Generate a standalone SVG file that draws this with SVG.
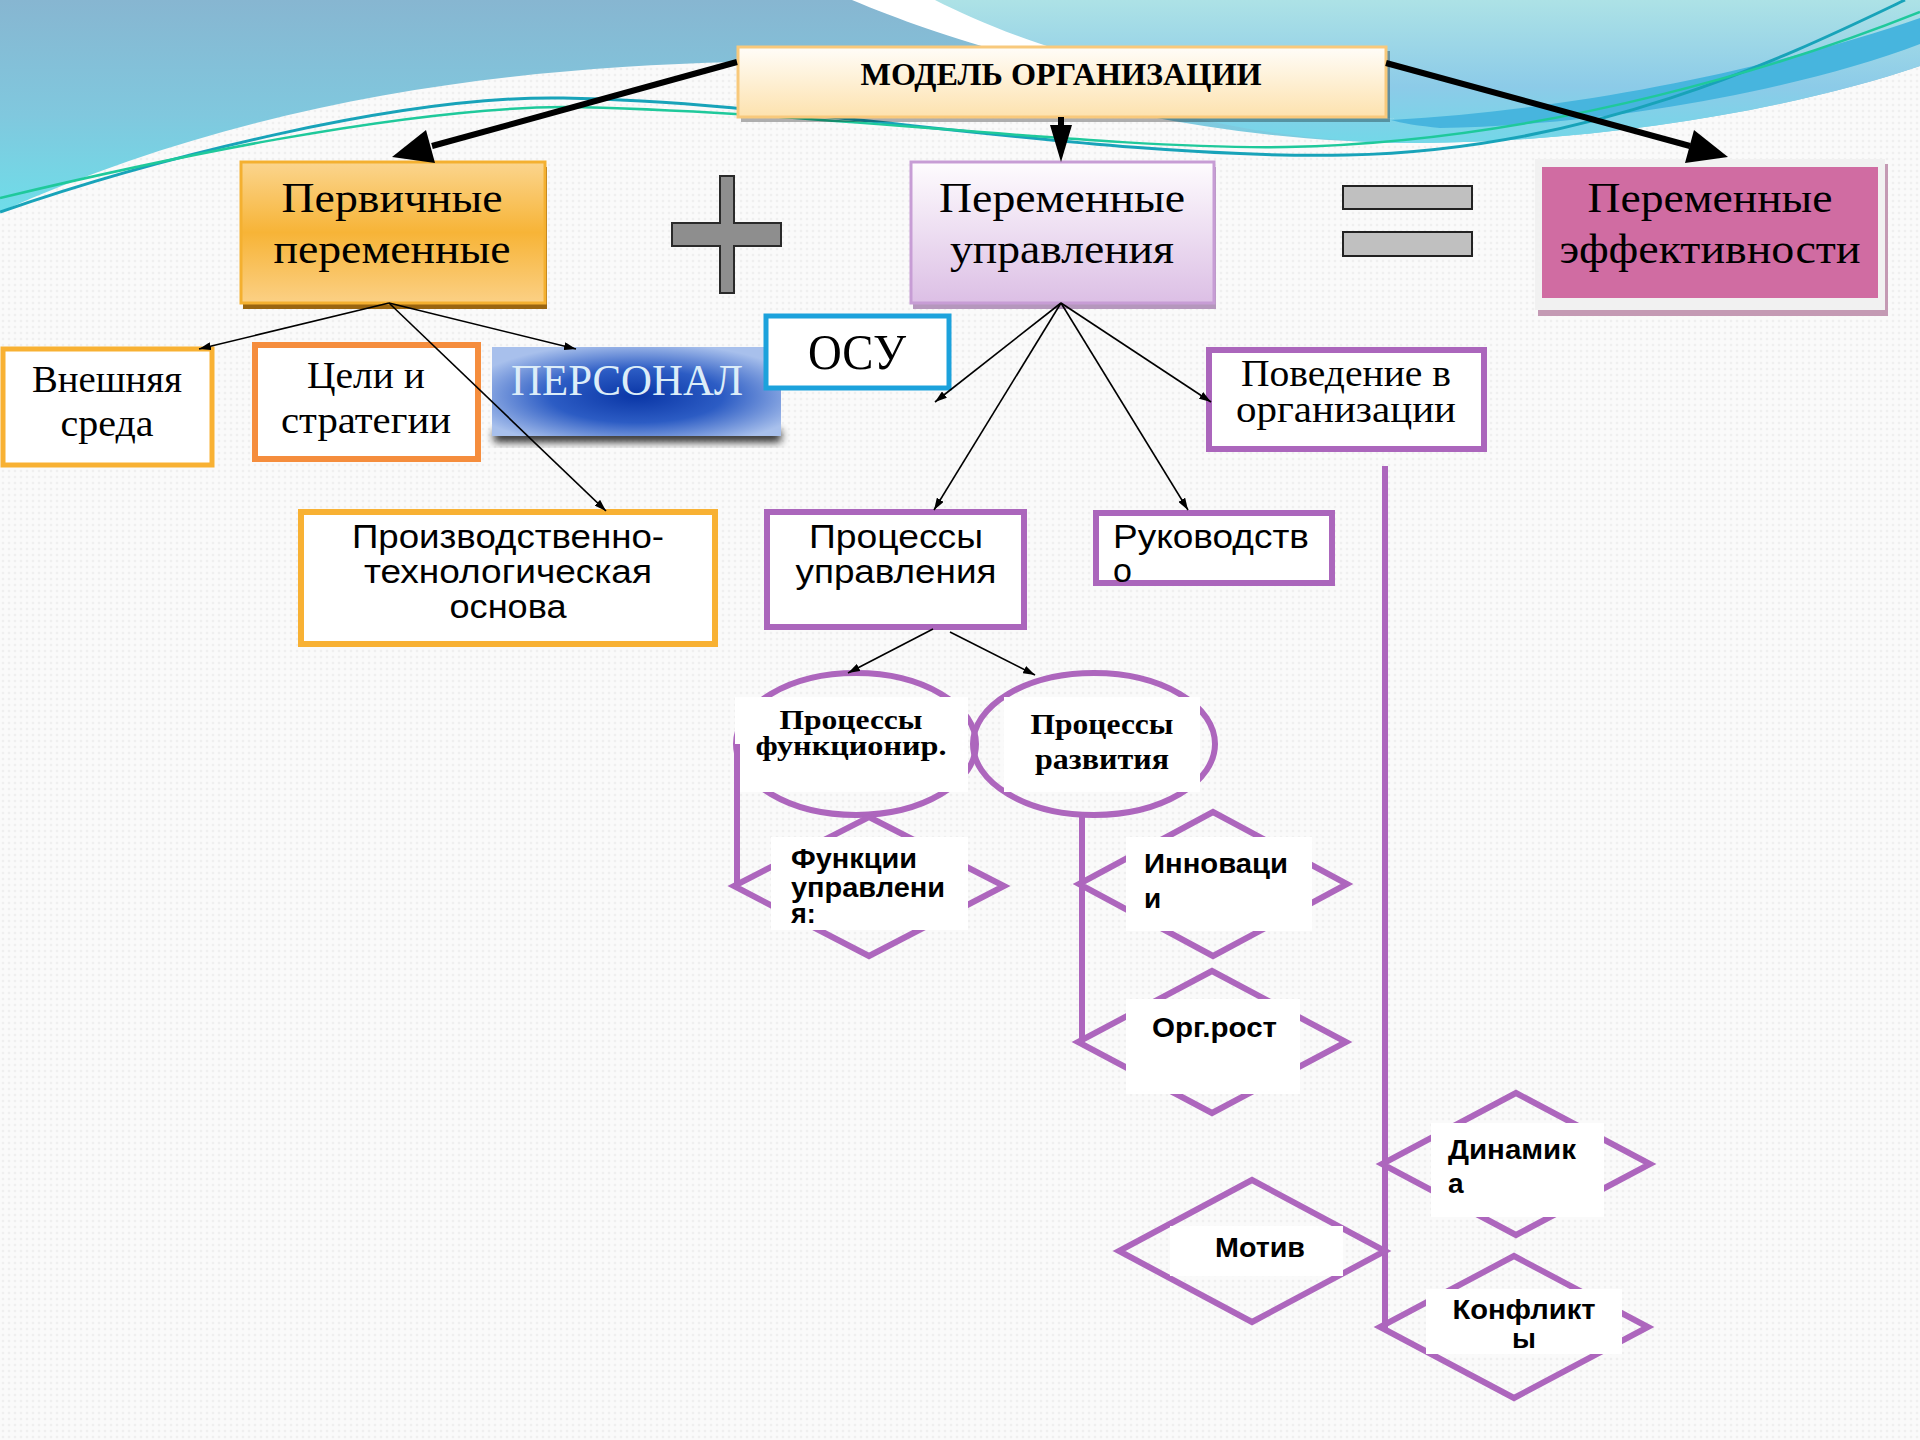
<svg xmlns="http://www.w3.org/2000/svg" width="1920" height="1440" viewBox="0 0 1920 1440">
<defs>
<pattern id="dots" width="6" height="6" patternUnits="userSpaceOnUse">
<rect width="6" height="6" fill="#fafafa"/>
<circle cx="3" cy="3" r="1.3" fill="#efefef"/>
</pattern>
<linearGradient id="gTopL" x1="0" y1="0" x2="0" y2="210" gradientUnits="userSpaceOnUse">
<stop offset="0" stop-color="#87b6d1"/>
<stop offset="0.55" stop-color="#80c8de"/>
<stop offset="1" stop-color="#6fdde9"/>
</linearGradient>
<linearGradient id="gTopR" x1="0" y1="0" x2="0" y2="145" gradientUnits="userSpaceOnUse">
<stop offset="0" stop-color="#ade2e6"/>
<stop offset="0.6" stop-color="#8ccbe8"/>
<stop offset="1" stop-color="#72d8e8"/>
</linearGradient>
<linearGradient id="gTitle" x1="0" y1="0" x2="0" y2="1">
<stop offset="0" stop-color="#fffdf9"/>
<stop offset="1" stop-color="#fde2ae"/>
</linearGradient>
<linearGradient id="gPrim" x1="0" y1="0" x2="0" y2="1">
<stop offset="0" stop-color="#fbd58e"/>
<stop offset="0.5" stop-color="#f7b437"/>
<stop offset="1" stop-color="#fbd085"/>
</linearGradient>
<linearGradient id="gUpr" x1="0" y1="0" x2="0" y2="1">
<stop offset="0" stop-color="#fefcfe"/>
<stop offset="1" stop-color="#dcbfe5"/>
</linearGradient>
<radialGradient id="gPers" cx="0.5" cy="0.55" r="0.6" fx="0.5" fy="0.55">
<stop offset="0" stop-color="#0a36a6"/>
<stop offset="0.5" stop-color="#2c5cc4"/>
<stop offset="1" stop-color="#a8c0ec"/>
</radialGradient>
<filter id="blur" x="-10%" y="-50%" width="120%" height="200%">
<feGaussianBlur stdDeviation="4"/>
</filter>
<marker id="ah" viewBox="0 0 12 8" markerWidth="12" markerHeight="8" refX="12" refY="4" markerUnits="userSpaceOnUse" orient="auto">
<path d="M0,0 L12,4 L0,8 Z" fill="#000"/>
</marker>
<style>
.serif{font-family:"Liberation Serif","DejaVu Serif",serif;fill:#000}
.sans{font-family:"Liberation Sans",Arial,sans-serif;fill:#000}
.bs{font-family:"Liberation Sans",Arial,sans-serif;font-weight:bold;fill:#000}
.bserif{font-family:"Liberation Serif","DejaVu Serif",serif;font-weight:bold;fill:#000}
.thin{stroke:#000;stroke-width:1.6;fill:none;marker-end:url(#ah)}
.thick{stroke:#000;stroke-width:6;fill:none}
.pu{stroke:#ad66bd;stroke-width:6;fill:none}
.wb{fill:#ffffff}
.c{text-anchor:middle}
</style>
</defs>

<!-- background -->
<rect x="0" y="0" width="1920" height="1440" fill="url(#dots)"/>
<path d="M0,0 H1920 V66 C1790,110 1600,142 1420,143 C1270,143 1140,118 1020,88 C930,66 830,60 735,62 C500,68 250,100 0,212 Z" fill="url(#gTopL)"/>
<path d="M905,0 H1920 V66 C1790,110 1600,142 1420,143 C1300,142 1200,125 1120,95 C1040,60 960,25 905,0 Z" fill="url(#gTopR)"/>
<path d="M1391,120 C1600,108 1800,60 1920,18 V44 C1800,90 1600,126 1440,128 C1420,126 1400,123 1391,120 Z" fill="#47b5de"/>
<path d="M852,0 H935 C1010,38 1120,80 1395,119 C1110,92 960,45 852,0 Z" fill="#ffffff"/>
<path d="M0,212 C150,160 400,95 563,98 C800,102 1100,160 1347,155 C1600,150 1800,50 1905,0" fill="none" stroke="#18a3b9" stroke-width="3"/>
<path d="M0,198 C150,162 400,108 563,107 C800,110 1100,150 1286,147 C1550,142 1800,60 1920,12" fill="none" stroke="#1fc99b" stroke-width="2.5"/>

<!-- title -->
<g id="title">
<rect x="741" y="51" width="649" height="71" fill="#000" opacity="0.3"/>
<rect x="738" y="47" width="648" height="70" fill="url(#gTitle)" stroke="#f8c97c" stroke-width="3"/>
<text class="bserif c" x="1061" y="85" font-size="32" textLength="401" lengthAdjust="spacingAndGlyphs">МОДЕЛЬ ОРГАНИЗАЦИИ</text>
</g>

<g id="primary">
<rect x="243" y="167" width="304" height="142" fill="#9a6510"/>
<rect x="241" y="162" width="304" height="141" fill="url(#gPrim)" stroke="#f4b030" stroke-width="3"/>
<text class="serif c" x="392" y="212" font-size="43" textLength="221" lengthAdjust="spacingAndGlyphs">Первичные</text>
<text class="serif c" x="392" y="263" font-size="43" textLength="237" lengthAdjust="spacingAndGlyphs">переменные</text>
</g>

<g id="plus">
<polygon points="720,176 734,176 734,223 781,223 781,246 734,246 734,293 720,293 720,246 672,246 672,223 720,223" fill="#8e8e8e" stroke="#2a2a2a" stroke-width="2"/>
</g>

<g id="management">
<rect x="913" y="167" width="303" height="142" fill="#b597bd"/>
<rect x="911" y="162" width="303" height="141" fill="url(#gUpr)" stroke="#c79dd5" stroke-width="3"/>
<text class="serif c" x="1062" y="212" font-size="43" textLength="246" lengthAdjust="spacingAndGlyphs">Переменные</text>
<text class="serif c" x="1062" y="263" font-size="43" textLength="224" lengthAdjust="spacingAndGlyphs">управления</text>
</g>

<g id="equals">
<rect x="1343" y="186" width="129" height="23" fill="#c0c0c0" stroke="#222" stroke-width="2"/>
<rect x="1343" y="232" width="129" height="24" fill="#c0c0c0" stroke="#222" stroke-width="2"/>
</g>

<g id="effectiveness">
<rect x="1538" y="164" width="350" height="152" fill="#c49ab4"/>
<rect x="1535" y="159" width="350" height="151" fill="#f1f1f1"/>
<rect x="1542" y="167" width="336" height="131" fill="#d06ca2"/>
<text class="serif c" x="1710" y="212" font-size="43" textLength="245" lengthAdjust="spacingAndGlyphs">Переменные</text>
<text class="serif c" x="1710" y="263" font-size="43" textLength="301" lengthAdjust="spacingAndGlyphs">эффективности</text>
</g>

<g id="env">
<rect x="3" y="349" width="209" height="116" fill="#fff" stroke="#f8b133" stroke-width="5"/>
<text class="serif c" x="107" y="392" font-size="37" textLength="150" lengthAdjust="spacingAndGlyphs">Внешняя</text>
<text class="serif c" x="107" y="436" font-size="37" textLength="93" lengthAdjust="spacingAndGlyphs">среда</text>
</g>

<g id="goals">
<rect x="255" y="345" width="223" height="114" fill="#fff" stroke="#f58d3d" stroke-width="6"/>
<text class="serif c" x="366" y="388" font-size="37" textLength="118" lengthAdjust="spacingAndGlyphs">Цели и</text>
<text class="serif c" x="366" y="433" font-size="37" textLength="170" lengthAdjust="spacingAndGlyphs">стратегии</text>
</g>

<g id="personnel">
<rect x="494" y="430" width="287" height="12" fill="#000" opacity="0.85" filter="url(#blur)"/>
<rect x="492" y="347" width="289" height="89" fill="url(#gPers)"/>
<text class="c" x="627" y="395" font-size="44" font-family="Liberation Serif, DejaVu Serif, serif" fill="#dcedf8" textLength="232" lengthAdjust="spacingAndGlyphs">ПЕРСОНАЛ</text>
</g>

<g id="osu">
<rect x="766" y="316" width="183" height="72" fill="#fff" stroke="#1ca2dc" stroke-width="5"/>
<text class="serif c" x="857" y="369" font-size="50" textLength="98" lengthAdjust="spacingAndGlyphs">ОСУ</text>
</g>

<g id="production">
<rect x="301" y="512" width="414" height="132" fill="#fff" stroke="#f8b133" stroke-width="6"/>
<text class="sans c" x="508" y="548" font-size="34" textLength="312" lengthAdjust="spacingAndGlyphs">Производственно-</text>
<text class="sans c" x="508" y="583" font-size="34" textLength="288" lengthAdjust="spacingAndGlyphs">технологическая</text>
<text class="sans c" x="508" y="618" font-size="34" textLength="117" lengthAdjust="spacingAndGlyphs">основа</text>
</g>

<g id="mgmt-processes">
<rect x="767" y="512" width="257" height="115" fill="#fff" stroke="#ab66bc" stroke-width="6"/>
<text class="sans c" x="896" y="548" font-size="34" textLength="174" lengthAdjust="spacingAndGlyphs">Процессы</text>
<text class="sans c" x="896" y="583" font-size="34" textLength="201" lengthAdjust="spacingAndGlyphs">управления</text>
</g>

<g id="leadership">
<rect x="1096" y="513" width="236" height="70" fill="#fff" stroke="#ab66bc" stroke-width="6"/>
<text class="sans" x="1113" y="548" font-size="34" textLength="196" lengthAdjust="spacingAndGlyphs">Руководств</text>
<text class="sans" x="1113" y="582" font-size="34">о</text>
</g>

<g id="behavior">
<rect x="1209" y="350" width="275" height="99" fill="#fff" stroke="#ab66bc" stroke-width="6"/>
<text class="serif c" x="1346" y="386" font-size="37" textLength="210" lengthAdjust="spacingAndGlyphs">Поведение в</text>
<text class="serif c" x="1346" y="422" font-size="37" textLength="220" lengthAdjust="spacingAndGlyphs">организации</text>
</g>

<g id="func-processes">
<ellipse class="pu" cx="856" cy="744" rx="120" ry="71" fill="#fff"/>
<rect class="wb" x="735" y="697" width="233" height="95"/>
<text class="bserif c" x="851" y="729" font-size="28" textLength="143" lengthAdjust="spacingAndGlyphs">Процессы</text>
<text class="bserif c" x="851" y="755" font-size="28" textLength="191" lengthAdjust="spacingAndGlyphs">функционир.</text>
</g>

<g id="dev-processes">
<ellipse class="pu" cx="1094" cy="744" rx="121" ry="71" fill="#fff"/>
<rect class="wb" x="1004" y="697" width="196" height="95"/>
<text class="bserif c" x="1102" y="734" font-size="29" textLength="143" lengthAdjust="spacingAndGlyphs">Процессы</text>
<text class="bserif c" x="1102" y="769" font-size="29" textLength="134" lengthAdjust="spacingAndGlyphs">развития</text>
</g>

<g id="purple-links">
<line class="pu" x1="737" y1="744" x2="737" y2="886"/>
<line class="pu" x1="1082" y1="815" x2="1082" y2="1042"/>
<line class="pu" x1="1385" y1="466" x2="1385" y2="1328"/>
</g>

<g id="functions">
<polygon class="pu" points="869,817 1004,886 869,956 734,886"/>
<rect class="wb" x="771" y="837" width="197" height="93"/>
<text class="bs" x="791" y="868" font-size="27" textLength="126" lengthAdjust="spacingAndGlyphs">Функции</text>
<text class="bs" x="791" y="897" font-size="27" textLength="154" lengthAdjust="spacingAndGlyphs">управлени</text>
<text class="bs" x="791" y="923" font-size="27">я:</text>
</g>

<g id="innovations">
<polygon class="pu" points="1213,812 1347,884 1213,956 1079,884"/>
<rect class="wb" x="1126" y="837" width="186" height="94"/>
<text class="bs" x="1144" y="873" font-size="28" textLength="144" lengthAdjust="spacingAndGlyphs">Инноваци</text>
<text class="bs" x="1144" y="908" font-size="28">и</text>
</g>

<g id="growth">
<polygon class="pu" points="1212,971 1346,1042 1212,1113 1078,1042"/>
<rect class="wb" x="1126" y="999" width="174" height="95"/>
<text class="bs" x="1152" y="1037" font-size="28" textLength="125" lengthAdjust="spacingAndGlyphs">Орг.рост</text>
</g>

<g id="dynamics">
<polygon class="pu" points="1516,1093 1650,1164 1516,1235 1382,1164"/>
<rect class="wb" x="1431" y="1123" width="173" height="94"/>
<text class="bs" x="1448" y="1159" font-size="28" textLength="128" lengthAdjust="spacingAndGlyphs">Динамик</text>
<text class="bs" x="1448" y="1193" font-size="28">а</text>
</g>

<g id="motive">
<polygon class="pu" points="1252,1180 1385,1251 1252,1322 1119,1251"/>
<rect class="wb" x="1170" y="1226" width="173" height="50"/>
<text class="bs c" x="1260" y="1257" font-size="28" textLength="90" lengthAdjust="spacingAndGlyphs">Мотив</text>
</g>

<g id="conflicts">
<polygon class="pu" points="1514,1256 1648,1327 1514,1398 1380,1327"/>
<rect class="wb" x="1426" y="1289" width="196" height="65"/>
<text class="bs c" x="1524" y="1319" font-size="28" textLength="143" lengthAdjust="spacingAndGlyphs">Конфликт</text>
<text class="bs c" x="1524" y="1348" font-size="28">ы</text>
</g>

<!-- connectors -->
<g id="connectors">
<line class="thick" x1="737" y1="62" x2="432" y2="146"/>
<polygon points="392,157 435,163 426,130" fill="#000"/>
<line class="thick" x1="1061" y1="117" x2="1061" y2="128"/>
<polygon points="1061,162 1050,125 1072,125" fill="#000"/>
<line class="thick" x1="1386" y1="63" x2="1690" y2="146"/>
<polygon points="1728,157 1685,163 1694,130" fill="#000"/>

<line class="thin" x1="389" y1="303" x2="199" y2="349"/>
<line class="thin" x1="389" y1="303" x2="576" y2="349"/>
<line class="thin" x1="389" y1="303" x2="606" y2="511"/>

<line class="thin" x1="1061" y1="303" x2="935" y2="402"/>
<line class="thin" x1="1061" y1="303" x2="934" y2="510"/>
<line class="thin" x1="1061" y1="303" x2="1188" y2="510"/>
<line class="thin" x1="1061" y1="303" x2="1211" y2="402"/>

<line class="thin" x1="933" y1="629" x2="848" y2="673"/>
<line class="thin" x1="950" y1="632" x2="1035" y2="675"/>
</g>
</svg>
